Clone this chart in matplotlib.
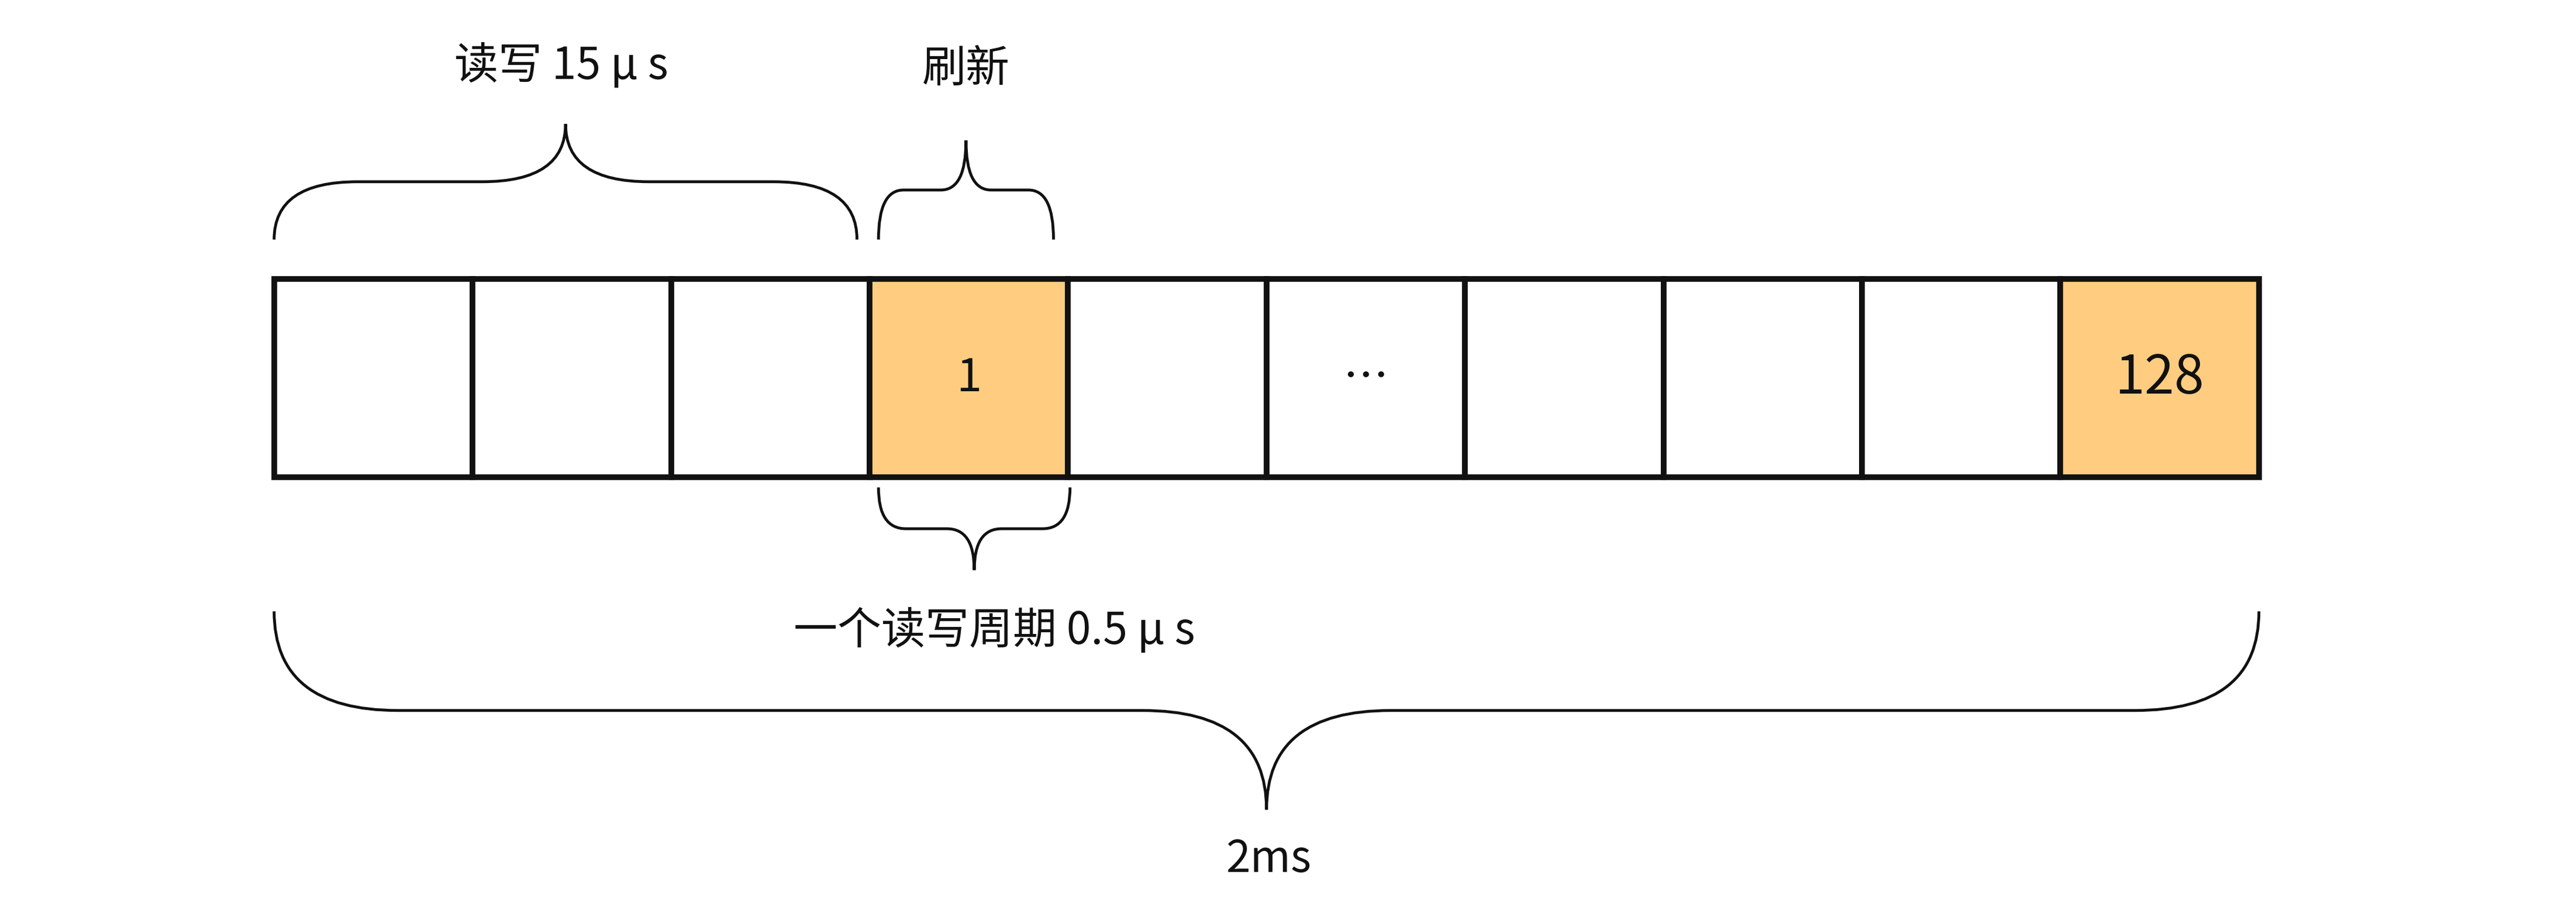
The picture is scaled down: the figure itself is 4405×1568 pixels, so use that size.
import matplotlib
matplotlib.use("Agg")
import matplotlib.pyplot as plt
from matplotlib.path import Path
from matplotlib.patches import PathPatch, Rectangle

plt.rcParams['font.family'] = ['Noto Sans CJK SC', 'DejaVu Sans']

# cells of the timeline
cell_labels = ["", "", "", "1", "", "…", "", "", "", "128"]
cell_filled = [False, False, False, True, False, False, False, False, False, True]

# braces: (x_start, x_end, y_end, y_tip, label, label_x, label_y)
braces = [
    (166, 519, 145, 75, "读写 15 μ s", 340, 40),
    (532, 638, 145, 85, "刷新", 585, 42),
    (532, 648, 295, 345, "一个读写周期 0.5 μ s", 602, 382),
    (166, 1368, 370, 490, "2ms", 768, 520),
]

fig = plt.figure(figsize=(44.05, 15.68), dpi=100)
ax = fig.add_axes([0, 0, 1, 1])
ax.set_xlim(0, 1560)
ax.set_ylim(555, 0)
ax.axis("off")

x0, x1, y0, y1 = 166, 1368, 169, 289
w = (x1 - x0) / len(cell_labels)
for i, (lab, filled) in enumerate(zip(cell_labels, cell_filled)):
    fc = "#ffcc80" if filled else "white"
    ax.add_patch(Rectangle((x0 + i * w, y0), w, y1 - y0, fc=fc, ec="#111111", lw=7))
    size = 66 if lab == "128" else 56
    ax.text(x0 + (i + 0.5) * w, (y0 + y1) / 2, lab, ha="center", va="center", fontsize=size, color="#111111")


def brace(xa, xb, ye, yt):
    xm = (xa + xb) / 2
    ym = (ye + yt) / 2
    r = min(75, (xb - xa) / 7)
    verts = [(xa, ye), (xa, ym), (xa + r, ym), (xm - r, ym), (xm, ym), (xm, yt),
             (xm, ym), (xm + r, ym), (xb - r, ym), (xb, ym), (xb, ye)]
    codes = [Path.MOVETO, Path.CURVE3, Path.CURVE3, Path.LINETO, Path.CURVE3, Path.CURVE3,
             Path.CURVE3, Path.CURVE3, Path.LINETO, Path.CURVE3, Path.CURVE3]
    ax.add_patch(PathPatch(Path(verts, codes), fc="none", ec="#111111", lw=3.5))


for xa, xb, ye, yt, lab, lx, ly in braces:
    brace(xa, xb, ye, yt)
    ax.text(lx, ly, lab, ha="center", va="center", fontsize=54, color="#111111")

fig.savefig("out.png")
